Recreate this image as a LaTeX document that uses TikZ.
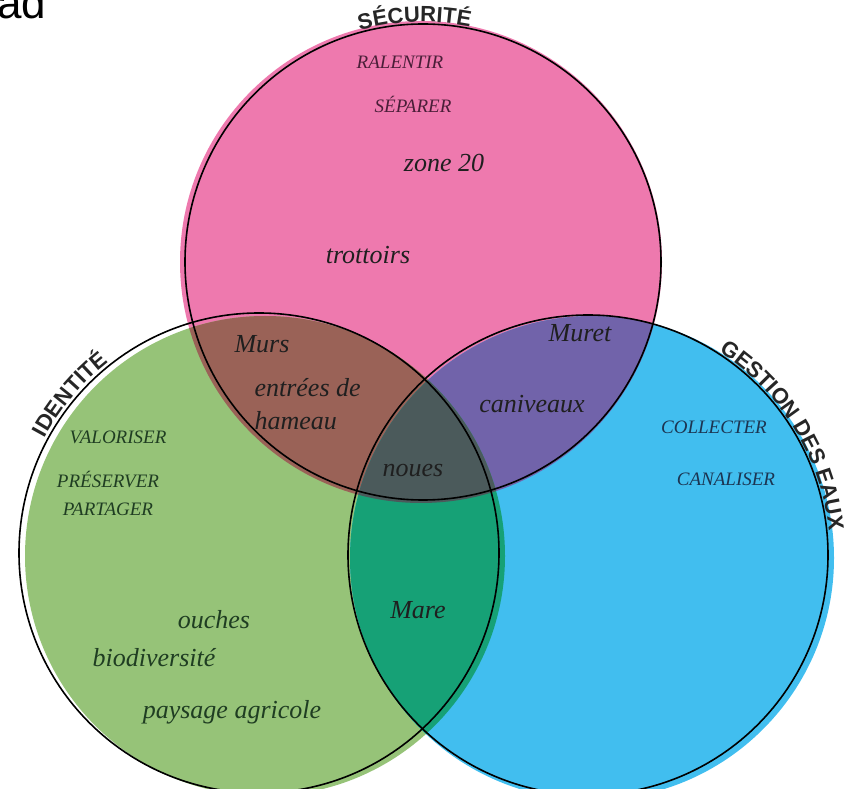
\documentclass[tikz,border=0pt]{standalone}
\usepackage{fontspec}
\setmainfont{Liberation Serif}
\setsansfont{Liberation Sans}
\usetikzlibrary{decorations.text}

\definecolor{secu}{HTML}{EE79AE}
\definecolor{iden}{HTML}{96C378}
\definecolor{eaux}{HTML}{41BEEF}
\definecolor{secuiden}{HTML}{9A6257}
\definecolor{secueaux}{HTML}{7163AA}
\definecolor{ideneaux}{HTML}{16A176}
\definecolor{tous}{HTML}{4B5A5B}
\definecolor{secutxt}{HTML}{4A1E38}
\definecolor{identxt}{HTML}{1F3D22}
\definecolor{eauxtxt}{HTML}{1C3552}

\tikzset{
  mot/.style={font=\itshape\fontsize{26}{33}\selectfont, text=black!88},
  verbe/.style={font=\itshape\fontsize{19}{23}\selectfont},
  bord/.style={line width=1.6pt},
  titre/.style={decorate, decoration={text along path, text align=center,
      text={|\sffamily\bfseries\fontsize{22}{26}\selectfont\color{black!85}|#1}}},
}

\begin{document}
\begin{tikzpicture}[x=1pt,y=1pt]
    \useasboundingbox (0,0) rectangle (849,788);

    % ---------------------------------------------
    % centres of the three circles (outline and fill)
    \coordinate (S) at (423,526);
    \coordinate (I) at (259,235);
    \coordinate (E) at (588,233);
    \coordinate (Sf) at (421,526);
    \coordinate (If) at (265,232);
    \coordinate (Ef) at (592,230);

    % ---------------------------------------------
    % fills and overlaps
    \fill[secu] (Sf) circle[radius=241pt];
    \fill[iden] (If) circle[radius=240pt];
    \fill[eaux] (Ef) circle[radius=242pt];
    \begin{scope}
      \clip (Sf) circle[radius=241pt];
      \fill[secuiden] (If) circle[radius=240pt];
      \fill[secueaux] (Ef) circle[radius=242pt];
    \end{scope}
    \begin{scope}
      \clip (If) circle[radius=240pt];
      \fill[ideneaux] (Ef) circle[radius=242pt];
      \clip (Sf) circle[radius=241pt];
      \fill[tous] (Ef) circle[radius=242pt];
    \end{scope}

    % ---------------------------------------------
    % outlines
    \draw[bord] (S) circle[radius=238pt];
    \draw[bord] (I) circle[radius=240pt];
    \draw[bord] (E) circle[radius=240pt];

    % titles along the circles
    \path[titre=SÉCURITÉ] (S) ++(116:240pt) arc[start angle=116, end angle=68, radius=240pt];
    \path[titre=IDENTITÉ] (I) ++(167:243pt) arc[start angle=167, end angle=113, radius=243pt];
    \path[titre=GESTION DES EAUX] (E) ++(68:242pt) arc[start angle=68, end angle=-5, radius=242pt];

    % ---------------------------------------------
    % sécurité
    \node[verbe, text=secutxt] (ralentir) at (400,726) {RALENTIR};
    \node[verbe, text=secutxt] (separer) at (413,684) {SÉPARER};
    \node[mot] (zone) at (444,625) {zone 20};
    \node[mot] (trottoirs) at (368,533) {trottoirs};

    % identité
    \node[verbe, text=identxt] (valoriser) at (118,351) {VALORISER};
    \node[verbe, text=identxt] (preserver) at (108,309) {PRÉSERVER};
    \node[verbe, text=identxt] (partager) at (108,279) {PARTAGER};
    \node[mot, text=identxt] (ouches) at (214,168) {ouches};
    \node[mot, text=identxt] (biodiv) at (154,130) {biodiversité};
    \node[mot, text=identxt] (paysage) at (232,76) {paysage agricole};

    % gestion des eaux
    \node[verbe, text=eauxtxt] (collecter) at (714,361) {COLLECTER};
    \node[verbe, text=eauxtxt] (canaliser) at (726,309) {CANALISER};

    % overlaps
    \node[mot] (murs) at (262,444) {Murs};
    \node[mot, align=left, anchor=west] (entrees) at (251,384) {entrées de\\hameau};
    \node[mot] (muret) at (580,455) {Muret};
    \node[mot] (caniveaux) at (532,384) {caniveaux};
    \node[mot] (noues) at (413,317) {noues};
    \node[mot] (mare) at (418,178) {Mare};

    % cut text in the corner
    \node[font=\sffamily\fontsize{44}{50}\selectfont, anchor=base west, inner sep=0pt] (coin) at (-3,769) {ad};
\end{tikzpicture}
\end{document}
